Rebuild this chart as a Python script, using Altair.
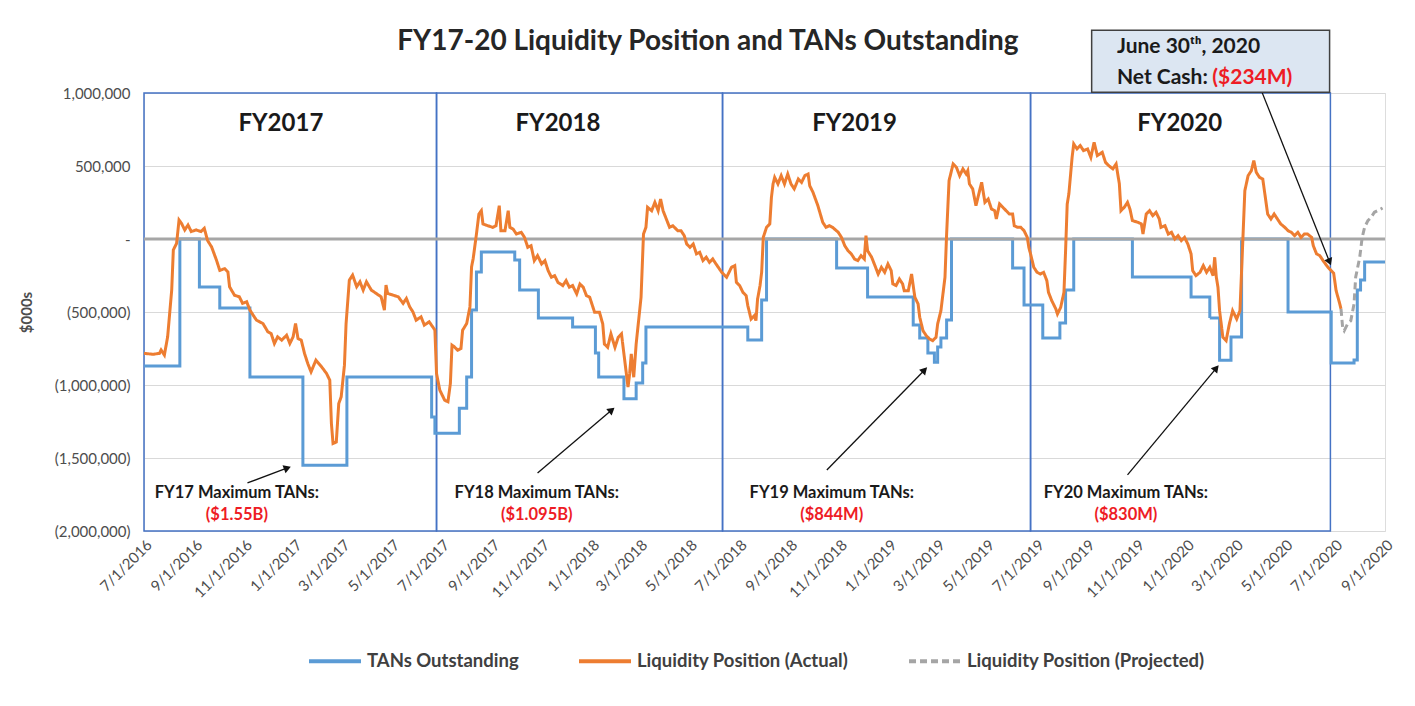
import altair as alt
import pandas as pd

FONT = "Lato"
BLUE = "#5B9BD5"
ORANGE = "#ED7D31"
GRAY = "#A5A5A5"
BOX = "#4472C4"
RED = "#EE1C25"

series_names = ["TANs Outstanding", "Liquidity Position (Actual)", "Liquidity Position (Projected)"]

# ---- Liquidity position (actual), $000s
liq_dates = [
    "2016-07-01", "2016-07-12", "2016-07-20", "2016-07-22", "2016-07-26", "2016-07-30", "2016-08-04", "2016-08-06",
    "2016-08-10", "2016-08-13", "2016-08-16", "2016-08-20", "2016-08-24", "2016-08-28", "2016-09-03", "2016-09-09",
    "2016-09-13", "2016-09-17", "2016-09-22", "2016-09-28", "2016-10-02", "2016-10-08", "2016-10-12", "2016-10-14",
    "2016-10-20", "2016-10-26", "2016-10-30", "2016-11-04", "2016-11-08", "2016-11-12", "2016-11-16", "2016-11-24",
    "2016-11-30", "2016-12-04", "2016-12-08", "2016-12-12", "2016-12-17", "2016-12-23", "2016-12-27", "2016-12-31",
    "2017-01-03", "2017-01-06", "2017-01-10", "2017-01-14", "2017-01-18", "2017-01-22", "2017-01-28", "2017-02-04",
    "2017-02-10", "2017-02-14", "2017-02-16", "2017-02-18", "2017-02-22", "2017-02-25", "2017-02-28", "2017-03-04",
    "2017-03-06", "2017-03-10", "2017-03-14", "2017-03-19", "2017-03-23", "2017-03-27", "2017-03-31", "2017-04-06",
    "2017-04-12", "2017-04-18", "2017-04-22", "2017-04-24", "2017-04-26", "2017-05-03", "2017-05-09", "2017-05-15",
    "2017-05-19", "2017-05-23", "2017-05-27", "2017-05-31", "2017-06-06", "2017-06-10", "2017-06-16", "2017-06-23",
    "2017-06-25", "2017-06-29", "2017-07-05", "2017-07-09", "2017-07-12", "2017-07-14", "2017-07-17", "2017-07-21",
    "2017-07-25", "2017-07-27", "2017-08-01", "2017-08-05", "2017-08-07", "2017-08-09", "2017-08-13", "2017-08-16",
    "2017-08-19", "2017-08-21", "2017-08-27", "2017-09-02", "2017-09-06", "2017-09-10", "2017-09-12", "2017-09-17",
    "2017-09-21", "2017-09-23", "2017-09-27", "2017-10-01", "2017-10-07", "2017-10-11", "2017-10-15", "2017-10-19",
    "2017-10-23", "2017-10-27", "2017-11-01", "2017-11-05", "2017-11-09", "2017-11-13", "2017-11-17", "2017-11-21",
    "2017-11-27", "2017-12-01", "2017-12-05", "2017-12-09", "2017-12-14", "2017-12-18", "2017-12-22", "2017-12-26",
    "2017-12-30", "2018-01-05", "2018-01-11", "2018-01-15", "2018-01-17", "2018-01-21", "2018-01-25", "2018-01-30",
    "2018-02-03", "2018-02-07", "2018-02-09", "2018-02-13", "2018-02-15", "2018-02-17", "2018-02-19", "2018-02-22",
    "2018-02-25", "2018-02-28", "2018-03-03", "2018-03-06", "2018-03-09", "2018-03-11", "2018-03-16", "2018-03-20",
    "2018-03-24", "2018-03-27", "2018-03-30", "2018-04-03", "2018-04-07", "2018-04-11", "2018-04-17", "2018-04-21",
    "2018-04-25", "2018-04-28", "2018-05-02", "2018-05-06", "2018-05-10", "2018-05-14", "2018-05-18", "2018-05-22",
    "2018-05-26", "2018-05-30", "2018-06-03", "2018-06-10", "2018-06-16", "2018-06-22", "2018-06-26", "2018-06-28",
    "2018-07-02", "2018-07-06", "2018-07-10", "2018-07-12", "2018-07-16", "2018-07-20", "2018-07-22", "2018-07-24",
    "2018-07-27", "2018-07-29", "2018-07-31", "2018-08-04", "2018-08-08", "2018-08-10", "2018-08-12", "2018-08-14",
    "2018-08-18", "2018-08-22", "2018-08-26", "2018-08-30", "2018-09-03", "2018-09-07", "2018-09-12", "2018-09-16",
    "2018-09-20", "2018-09-24", "2018-09-26", "2018-09-30", "2018-10-06", "2018-10-12", "2018-10-16", "2018-10-20",
    "2018-10-24", "2018-10-31", "2018-11-04", "2018-11-08", "2018-11-12", "2018-11-16", "2018-11-20", "2018-11-24",
    "2018-11-28", "2018-12-02", "2018-12-04", "2018-12-06", "2018-12-11", "2018-12-15", "2018-12-19", "2018-12-23",
    "2018-12-27", "2018-12-31", "2019-01-04", "2019-01-06", "2019-01-10", "2019-01-14", "2019-01-18", "2019-01-20",
    "2019-01-25", "2019-01-29", "2019-02-02", "2019-02-06", "2019-02-08", "2019-02-12", "2019-02-16", "2019-02-20",
    "2019-02-24", "2019-02-28", "2019-03-02", "2019-03-06", "2019-03-08", "2019-03-11", "2019-03-13", "2019-03-16",
    "2019-03-21", "2019-03-25", "2019-03-29", "2019-04-02", "2019-04-06", "2019-04-08", "2019-04-10", "2019-04-14",
    "2019-04-18", "2019-04-21", "2019-04-25", "2019-04-29", "2019-05-03", "2019-05-07", "2019-05-11", "2019-05-13",
    "2019-05-17", "2019-05-21", "2019-05-25", "2019-05-29", "2019-06-02", "2019-06-04", "2019-06-08", "2019-06-12",
    "2019-06-16", "2019-06-20", "2019-06-22", "2019-06-24", "2019-06-28", "2019-07-02", "2019-07-06", "2019-07-10",
    "2019-07-14", "2019-07-16", "2019-07-20", "2019-07-25", "2019-07-27", "2019-07-31", "2019-08-04", "2019-08-06",
    "2019-08-08", "2019-08-10", "2019-08-14", "2019-08-16", "2019-08-20", "2019-08-24", "2019-08-28", "2019-09-02",
    "2019-09-06", "2019-09-10", "2019-09-14", "2019-09-20", "2019-09-24", "2019-09-28", "2019-10-03", "2019-10-07",
    "2019-10-11", "2019-10-13", "2019-10-17", "2019-10-21", "2019-10-24", "2019-10-27", "2019-11-03", "2019-11-07",
    "2019-11-09", "2019-11-13", "2019-11-17", "2019-11-21", "2019-11-25", "2019-11-29", "2019-12-01", "2019-12-06",
    "2019-12-10", "2019-12-14", "2019-12-18", "2019-12-22", "2019-12-26", "2019-12-30", "2020-01-03", "2020-01-07",
    "2020-01-09", "2020-01-13", "2020-01-18", "2020-01-22", "2020-01-26", "2020-01-30", "2020-02-03", "2020-02-05",
    "2020-02-07", "2020-02-09", "2020-02-11", "2020-02-15", "2020-02-19", "2020-02-23", "2020-02-27", "2020-03-03",
    "2020-03-07", "2020-03-11", "2020-03-13", "2020-03-17", "2020-03-21", "2020-03-24", "2020-03-27", "2020-03-31",
    "2020-04-04", "2020-04-06", "2020-04-10", "2020-04-14", "2020-04-18", "2020-04-22", "2020-04-26", "2020-05-01",
    "2020-05-05", "2020-05-09", "2020-05-13", "2020-05-17", "2020-05-21", "2020-05-25", "2020-05-29", "2020-06-03",
    "2020-06-05", "2020-06-09", "2020-06-13", "2020-06-17", "2020-06-23", "2020-06-30", "2020-07-03", "2020-07-07",
    "2020-07-09",
]
liq_values = [
    -783000, -790000, -783000, -760000, -795000, -670000, -350000, -75000,
    -30000, 130000, 107000, 62000, 96000, 51000, 62000, 51000,
    73000, -10000, -55000, -146000, -215000, -203000, -226000, -327000,
    -385000, -396000, -441000, -430000, -487000, -522000, -556000, -579000,
    -636000, -647000, -716000, -670000, -693000, -659000, -716000, -670000,
    -579000, -682000, -693000, -784000, -853000, -910000, -830000, -876000,
    -921000, -967000, -1264000, -1401000, -1390000, -1127000, -1081000, -864000,
    -579000, -282000, -247000, -327000, -293000, -350000, -293000, -350000,
    -373000, -396000, -487000, -316000, -373000, -385000, -396000, -441000,
    -407000, -464000, -499000, -556000, -533000, -590000, -567000, -624000,
    -921000, -1035000, -1104000, -1115000, -990000, -727000, -739000, -762000,
    -750000, -625000, -579000, -465000, -191000, -134000, 34000, 171000,
    194000, 103000, 91000, 80000, 91000, 228000, 57000, 57000,
    194000, 80000, 68000, 34000, 46000, 11000, -57000, -46000,
    -148000, -114000, -171000, -148000, -217000, -262000, -251000, -297000,
    -319000, -285000, -330000, -319000, -376000, -308000, -330000, -388000,
    -399000, -502000, -502000, -582000, -719000, -742000, -650000, -742000,
    -673000, -650000, -742000, -924000, -1015000, -924000, -787000, -947000,
    -719000, -559000, -399000, 34000, 80000, 217000, 194000, 251000,
    194000, 274000, 194000, 137000, 80000, 91000, 57000, 57000,
    23000, -34000, -57000, -34000, -102000, -91000, -148000, -125000,
    -160000, -137000, -171000, -228000, -262000, -194000, -182000, -297000,
    -319000, -365000, -388000, -456000, -548000, -525000, -559000, -411000,
    -320000, -228000, 11000, 80000, 103000, 285000, 377000, 422000,
    377000, 434000, 377000, 445000, 377000, 343000, 411000, 388000,
    434000, 445000, 365000, 320000, 228000, 114000, 80000, 91000,
    80000, 46000, 11000, -46000, -80000, -102000, -137000, -148000,
    -114000, -137000, 23000, -80000, -125000, -182000, -240000, -194000,
    -228000, -171000, -217000, -308000, -319000, -274000, -308000, -354000,
    -354000, -240000, -399000, -445000, -536000, -628000, -662000, -685000,
    -696000, -673000, -582000, -491000, -399000, -262000, 34000, 400000,
    514000, 491000, 434000, 480000, 445000, 468000, 377000, 343000,
    228000, 297000, 388000, 251000, 274000, 206000, 194000, 137000,
    240000, 217000, 194000, 171000, 171000, 91000, 80000, 80000,
    57000, 11000, -60000, -102000, -194000, -228000, -240000, -228000,
    -285000, -365000, -422000, -479000, -514000, -468000, -365000, -80000,
    240000, 308000, 559000, 651000, 617000, 640000, 605000, 617000,
    559000, 662000, 571000, 594000, 525000, 502000, 480000, 514000,
    377000, 194000, 217000, 251000, 205000, 126000, 114000, 103000,
    34000, 171000, 194000, 160000, 183000, 137000, 80000, 91000,
    34000, 46000, 0, 23000, -11000, 11000, -34000, -102000,
    -217000, -251000, -228000, -182000, -228000, -194000, -251000, -125000,
    -262000, -330000, -491000, -673000, -696000, -582000, -491000, -548000,
    -491000, 57000, 331000, 434000, 468000, 537000, 457000, 422000,
    411000, 331000, 171000, 137000, 171000, 137000, 103000, 80000,
    57000, 46000, 23000, 46000, 11000, 34000, 34000, 11000,
    -46000, -102000, -114000, -148000, -194000, -234000, -354000, -434000,
    -479000,
]

# ---- Liquidity position (projected), $000s
proj_dates = ["2020-07-09", "2020-07-11", "2020-07-13", "2020-07-17", "2020-07-21", "2020-07-25", "2020-07-27",
              "2020-08-01", "2020-08-04", "2020-08-07", "2020-08-11", "2020-08-15", "2020-08-19", "2020-08-23",
              "2020-08-29"]
proj_values = [-479000, -605000, -628000, -582000, -560000, -445000, -262000,
               -125000, 11000, 80000, 126000, 148000, 183000, 194000, 212000]

# ---- TANs outstanding (step changes), $000s
tan_dates = [
    "2016-07-01", "2016-08-14", "2016-09-07", "2016-10-02", "2016-11-08", "2017-01-12", "2017-03-07", "2017-06-19",
    "2017-06-23", "2017-07-23", "2017-08-01", "2017-08-07", "2017-08-13", "2017-08-19", "2017-09-29", "2017-10-05",
    "2017-10-28", "2017-12-09", "2018-01-06", "2018-01-10", "2018-02-10", "2018-02-25", "2018-03-05", "2018-03-09",
    "2018-07-12", "2018-07-29", "2018-08-04", "2018-10-29", "2018-12-06", "2019-01-31", "2019-02-08", "2019-02-18",
    "2019-02-26", "2019-03-02", "2019-03-06", "2019-03-13", "2019-03-19", "2019-06-02", "2019-06-16", "2019-07-09",
    "2019-07-30", "2019-08-06", "2019-08-16", "2019-10-27", "2020-01-07", "2020-01-30", "2020-02-11", "2020-02-25",
    "2020-03-09", "2020-05-05", "2020-06-27", "2020-07-25", "2020-07-29", "2020-08-02", "2020-08-07", "2020-09-01",
]
tan_values = [
    -870000, 0, -329000, -473000, -945000, -1550000, -945000, -1220000,
    -1330000, -1160000, -945000, -486000, -226000, -89000, -144000, -349000,
    -541000, -603000, -781000, -945000, -1095000, -986000, -849000, -603000,
    -692000, -418000, 0, -199000, -397000, -589000, -678000, -781000,
    -844000, -740000, -678000, -555000, 0, -199000, -452000, -678000,
    -575000, -349000, 0, -260000, -397000, -541000, -830000, -671000,
    0, -500000, -849000, -829000, -349000, -281000, -158000, -158000,
]

# ---- axis ticks
tick_dates = ["2016-07-01", "2016-09-01", "2016-11-01", "2017-01-01", "2017-03-01", "2017-05-01", "2017-07-01",
              "2017-09-01", "2017-11-01", "2018-01-01", "2018-03-01", "2018-05-01", "2018-07-01", "2018-09-01",
              "2018-11-01", "2019-01-01", "2019-03-01", "2019-05-01", "2019-07-01", "2019-09-01", "2019-11-01",
              "2020-01-01", "2020-03-01", "2020-05-01", "2020-07-01", "2020-09-01"]
y_ticks = [-2000000, -1500000, -1000000, -500000, 0, 500000, 1000000]

# ---- fiscal year panels
fy_names = ["FY2017", "FY2018", "FY2019", "FY2020"]
fy_start = ["2016-07-01", "2017-06-25", "2018-06-11", "2019-06-24"]
fy_end = ["2017-06-25", "2018-06-11", "2019-06-24", "2020-06-26"]
fy_label_dates = ["2016-12-16", "2017-11-21", "2018-11-20", "2019-12-24"]
fy_label_value = 791000

# ---- maximum TANs annotations
max_text = ["FY17 Maximum TANs:", "FY18 Maximum TANs:", "FY19 Maximum TANs:", "FY20 Maximum TANs:"]
max_amount = ["($1.55B)", "($1.095B)", "($844M)", "($830M)"]
max_text_dates = ["2016-10-23", "2017-10-26", "2018-10-23", "2019-10-19"]
arrow_from_dates = ["2016-11-05", "2017-10-27", "2018-10-17", "2019-10-21", "2020-04-03"]
arrow_from_values = [-1671000, -1603000, -1582000, -1616000, 1006000]
arrow_to_dates = ["2016-12-24", "2018-01-26", "2019-02-14", "2020-02-07", "2020-06-25"]
arrow_to_values = [-1568000, -1171000, -897000, -884000, -157000]
arrow_angles = [69, 50, 44, 40, 158]


def dt(s):
    y, m, d = (int(p) for p in s.split("-"))
    return alt.DateTime(year=y, month=m, date=d)


x_scale = alt.Scale(domain=[dt("2016-07-01"), dt("2020-09-01")])
y_scale = alt.Scale(domain=[-2000000, 1000000], nice=False)

NB = "\u00a0"
y_label_expr = (
    "datum.value == 0 ? '-" + NB * 4 + "' : (datum.value < 0 ? '(' + format(-datum.value, ',') + ')' : "
    "format(datum.value, ',') + '" + NB + "')"
)

AXIS_TXT = "#4D4D4D"
x_axis = alt.Axis(values=[dt(s) for s in tick_dates], format="%-m/%-d/%Y", labelAngle=315,
                  labelFont=FONT, labelFontSize=15, labelColor=AXIS_TXT, grid=False, domain=False,
                  ticks=False, labelPadding=6, title=None, labelOverlap=False, labelFlush=False)
y_axis = alt.Axis(values=y_ticks, labelExpr=y_label_expr, labelFont=FONT, labelFontSize=15,
                  labelColor=AXIS_TXT, grid=True, gridColor="#D9D9D9", gridWidth=1, domain=False,
                  ticks=False, labelPadding=14, title="$000s", titleFont=FONT, titleFontSize=15,
                  titleColor=AXIS_TXT, titleFontWeight="bold", titlePadding=20)


def X(field):
    return alt.X(field, type="temporal", scale=x_scale, axis=x_axis)


def Y(field):
    return alt.Y(field, type="quantitative", scale=y_scale, axis=y_axis)


legend_cfg = alt.Legend(title=None, orient="none", legendX=163, legendY=540, direction="horizontal",
                        symbolType="stroke", symbolSize=2700, symbolStrokeWidth=4, labelFont=FONT,
                        labelFontSize=18.5, labelFontWeight="bold", labelColor="#404040",
                        columnPadding=52, labelOffset=4, labelLimit=400)
color_enc = alt.Color("series:N", scale=alt.Scale(domain=series_names, range=[BLUE, ORANGE, GRAY]),
                      legend=legend_cfg)
dash_enc = alt.StrokeDash("series:N", scale=alt.Scale(domain=series_names, range=[[1, 0], [1, 0], [7, 4]]),
                          legend=legend_cfg)

tans_df = pd.DataFrame({"date": pd.to_datetime(tan_dates), "value": tan_values, "series": series_names[0]})
liq_df = pd.DataFrame({"date": pd.to_datetime(liq_dates), "value": liq_values, "series": series_names[1]})
proj_df = pd.DataFrame({"date": pd.to_datetime(proj_dates), "value": proj_values, "series": series_names[2]})

box_df = pd.DataFrame({"date": pd.to_datetime(fy_start), "end": pd.to_datetime(fy_end),
                       "value": -2000000, "hi": 1000000})
boxes = alt.Chart(box_df).mark_rect(fillOpacity=0, stroke=BOX, strokeWidth=1.5).encode(
    x=X("date:T"), x2="end:T", y=Y("value:Q"), y2="hi:Q")

tans_line = alt.Chart(tans_df).mark_line(interpolate="step-after", strokeWidth=3).encode(
    x=X("date:T"), y=Y("value:Q"), color=color_enc, strokeDash=dash_enc)

zero_df = pd.DataFrame({"value": [0]})
zero_line = alt.Chart(zero_df).mark_rule(color="#A6A6A6", strokeWidth=3).encode(y=Y("value:Q"))

liq_line = alt.Chart(liq_df).mark_line(strokeWidth=3).encode(
    x=X("date:T"), y=Y("value:Q"), color=color_enc, strokeDash=dash_enc)
proj_line = alt.Chart(proj_df).mark_line(strokeWidth=3).encode(
    x=X("date:T"), y=Y("value:Q"), color=color_enc, strokeDash=dash_enc)

fy_df = pd.DataFrame({"date": pd.to_datetime(fy_label_dates), "value": fy_label_value, "label": fy_names})
fy_text = alt.Chart(fy_df).mark_text(font=FONT, fontSize=24, fontWeight="bold", color="#1A1A1A").encode(
    x=X("date:T"), y=Y("value:Q"), text="label:N")

ann_rows = []
for t, a, d in zip(max_text, max_amount, max_text_dates):
    ann_rows.append({"date": d, "value": -1740000, "label": t, "c": "#1A1A1A"})
    ann_rows.append({"date": d, "value": -1890000, "label": a, "c": RED})
ann_df = pd.DataFrame(ann_rows)
ann_df["date"] = pd.to_datetime(ann_df["date"])
ann_text = alt.Chart(ann_df).mark_text(font=FONT, fontSize=16.5, fontWeight="bold").encode(
    x=X("date:T"), y=Y("value:Q"), text="label:N", color=alt.Color("c:N", scale=None))

arrow_df = pd.DataFrame({"date": pd.to_datetime(arrow_from_dates), "value": arrow_from_values,
                         "x2": pd.to_datetime(arrow_to_dates), "y2": arrow_to_values, "ang": arrow_angles})
arrow_lines = alt.Chart(arrow_df).mark_rule(color="#111111", strokeWidth=1.3).encode(
    x=X("date:T"), y=Y("value:Q"), x2="x2:T", y2="y2:Q")
arrow_heads = alt.Chart(arrow_df).mark_point(shape="triangle-up", filled=True, color="#111111", size=70,
                                              opacity=1).encode(
    x=X("x2:T"), y=Y("y2:Q"), angle=alt.Angle("ang:Q", scale=None))

call_df = pd.DataFrame({"date": pd.to_datetime(["2019-09-07"]), "x2": pd.to_datetime(["2020-06-25"]),
                        "value": [1005000], "y2": [1430000]})
call_box = alt.Chart(call_df).mark_rect(fill="#DCE6F2", stroke="#404040", strokeWidth=1.5).encode(
    x=X("date:T"), x2="x2:T", y=Y("value:Q"), y2="y2:Q")

call_txt_df = pd.DataFrame({
    "date": pd.to_datetime(["2019-10-08", "2019-10-08", "2020-02-02"]),
    "value": [1315000, 1103000, 1103000],
    "label": ["June 30\u1d57\u02b0, 2020", "Net Cash:", "($234M)"],
    "c": ["#1A1A1A", "#1A1A1A", RED],
})
call_text = alt.Chart(call_txt_df).mark_text(font=FONT, fontSize=21, fontWeight="bold", align="left").encode(
    x=X("date:T"), y=Y("value:Q"), text="label:N", color=alt.Color("c:N", scale=None))

title_df = pd.DataFrame({"date": pd.to_datetime(["2018-05-24"]), "value": [1349000],
                         "label": ["FY17-20 Liquidity Position and TANs Outstanding"]})
title_text = alt.Chart(title_df).mark_text(font=FONT, fontSize=28, fontWeight="bold", color="#262626").encode(
    x=X("date:T"), y=Y("value:Q"), text="label:N")

chart = alt.layer(
    boxes, tans_line, zero_line, liq_line, proj_line, fy_text, ann_text, arrow_lines, arrow_heads,
    call_box, call_text, title_text,
).properties(
    width=1241, height=438,
    autosize=alt.AutoSizeParams(type="none"),
    padding={"left": 136, "top": 85, "right": 20, "bottom": 162},
).configure_view(strokeWidth=0).configure(background="white")

chart.save("out.html", embed_options={"renderer": "svg", "actions": False})
